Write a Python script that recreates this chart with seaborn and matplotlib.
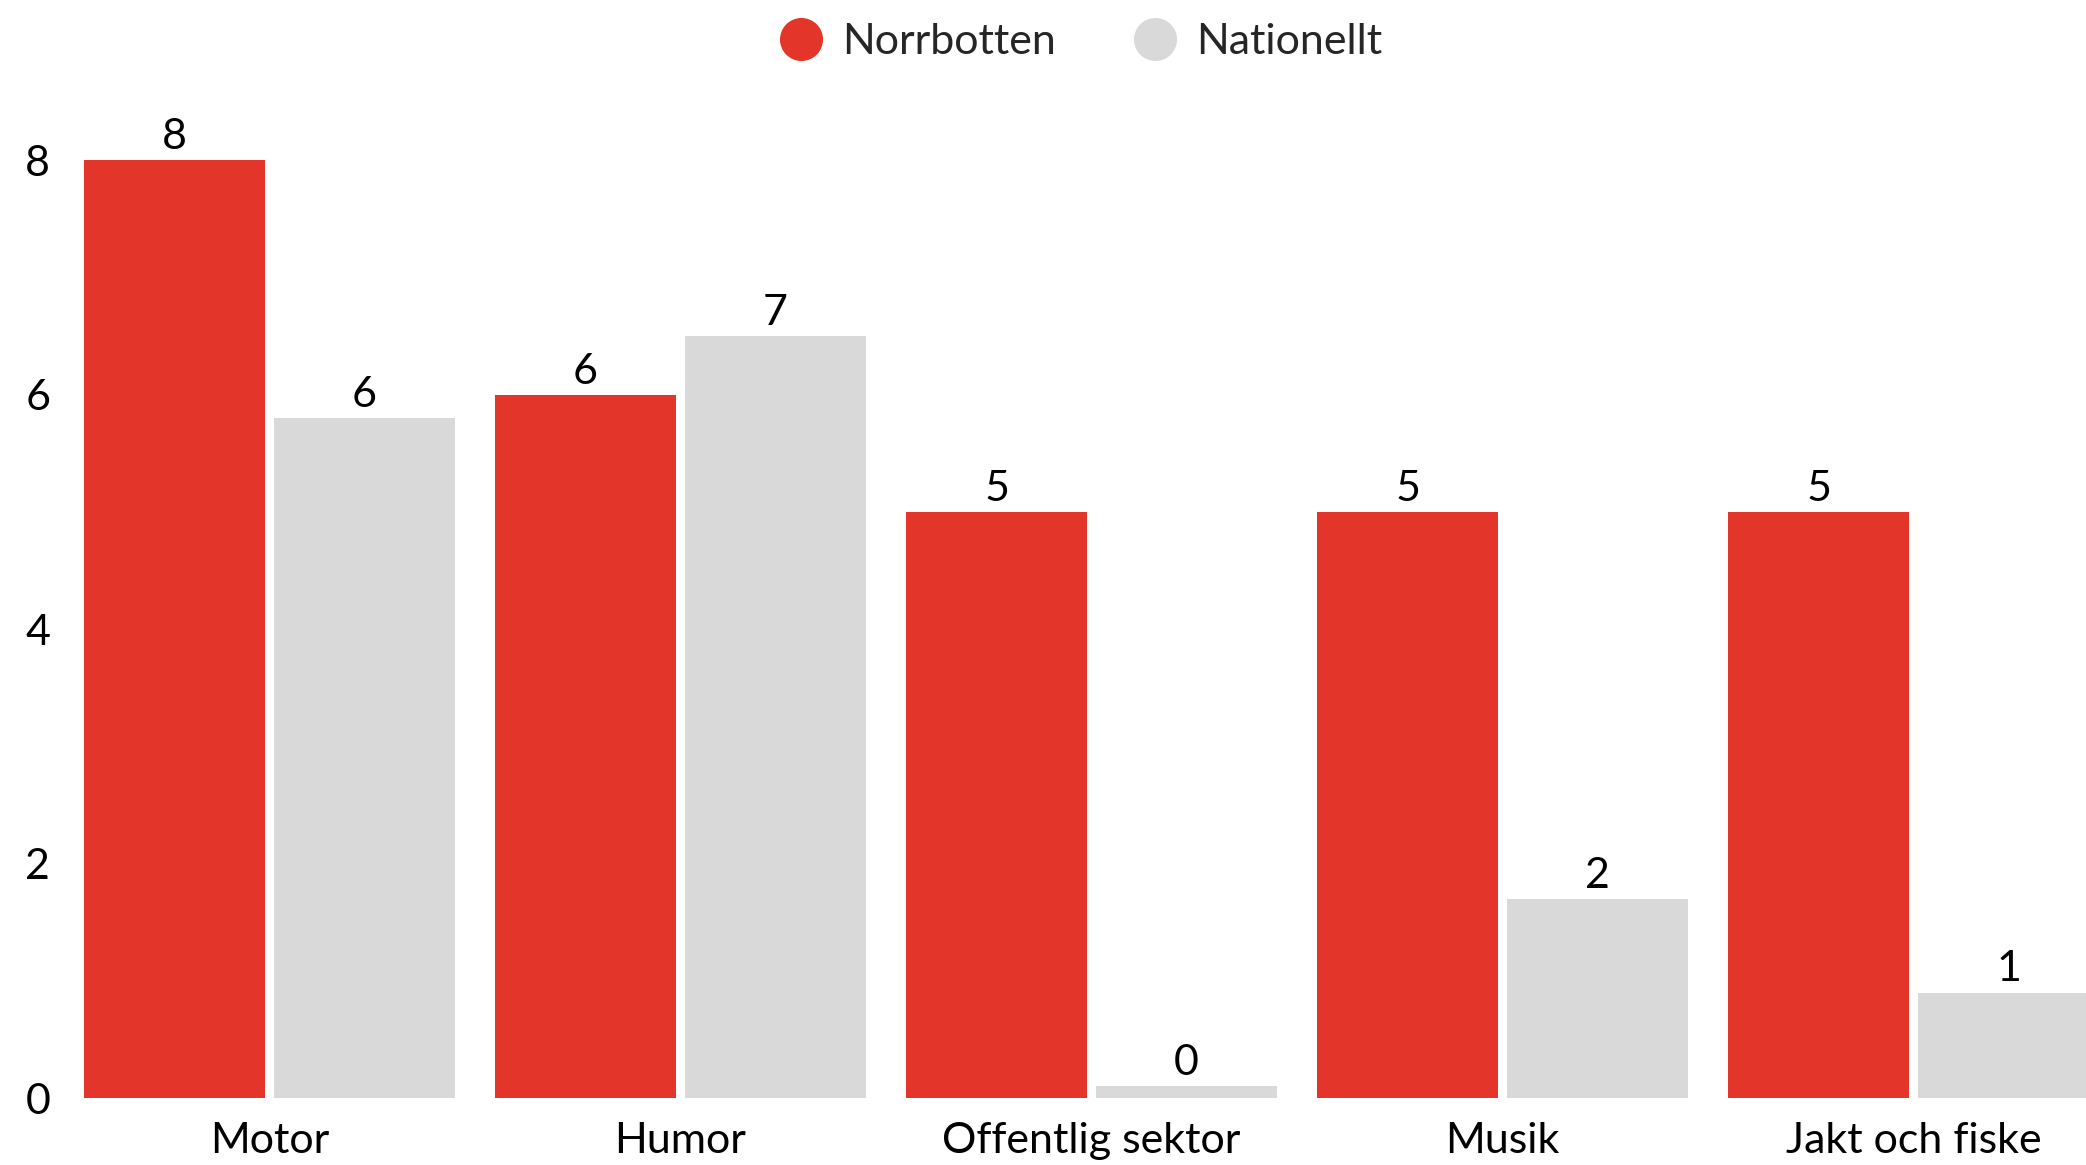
import numpy as np
import pandas as pd
import matplotlib
matplotlib.use("Agg")
import matplotlib.pyplot as plt
from matplotlib.lines import Line2D
import seaborn as sns

categories = ["Motor", "Humor", "Offentlig sektor", "Musik", "Jakt och fiske"]
norrbotten = [8.0, 6.0, 5.0, 5.0, 5.0]
nationellt = [5.8, 6.5, 0.1, 1.7, 0.9]
series_names = ["Norrbotten", "Nationellt"]
colors = ["#E4352A", "#D9D9D9"]
y_ticks = [0, 2, 4, 6, 8]

df = pd.DataFrame({
    "kategori": categories * 2,
    "serie": [series_names[0]] * len(categories) + [series_names[1]] * len(categories),
    "varde": norrbotten + nationellt,
})

sns.set_style("white")
plt.rcParams["font.family"] = ["Lato", "DejaVu Sans"]

W, H, DPI = 2086, 1165, 100
fig = plt.figure(figsize=(W / DPI, H / DPI), dpi=DPI)
ax_left, ax_bottom_px, ax_top_px = 60, 1098, 90
ymax = 8.6
ax = fig.add_axes([ax_left / W, (H - ax_bottom_px) / H, 1 - ax_left / W, (ax_bottom_px - ax_top_px) / H])

sns.barplot(data=df, x="kategori", y="varde", hue="serie", hue_order=series_names,
            palette=colors, width=0.924, gap=0.0476, saturation=1, ax=ax,
            edgecolor="none", linewidth=0, errorbar=None)

if ax.get_legend() is not None:
    ax.get_legend().remove()

FS = 31
for cont in ax.containers:
    labels = [str(int(np.floor(b.get_height() + 0.5))) for b in cont]
    ax.bar_label(cont, labels=labels, padding=3, fontsize=FS, color="black")

ax.set_xlim(-0.5097, 4.4197)
ax.set_ylim(0, ymax)
ax.set_yticks(y_ticks)
ax.set_yticklabels([str(t) for t in y_ticks])
ax.set_xlabel("")
ax.set_ylabel("")
ax.tick_params(axis="both", length=0, labelsize=FS, colors="black")
ax.tick_params(axis="x", pad=17)
ax.tick_params(axis="y", pad=7)
for s in ax.spines.values():
    s.set_visible(False)

handles = [Line2D([0], [0], marker="o", linestyle="none", markersize=31,
                  markerfacecolor=c, markeredgecolor="none") for c in colors]
fig.legend(handles, series_names, loc="center", bbox_to_anchor=(1081 / W, 1 - 42 / H),
           ncol=2, frameon=False, fontsize=FS, handlelength=1.0, handletextpad=0.45,
           columnspacing=1.8, borderpad=0, borderaxespad=0)

fig.savefig("out.png", dpi=DPI)
